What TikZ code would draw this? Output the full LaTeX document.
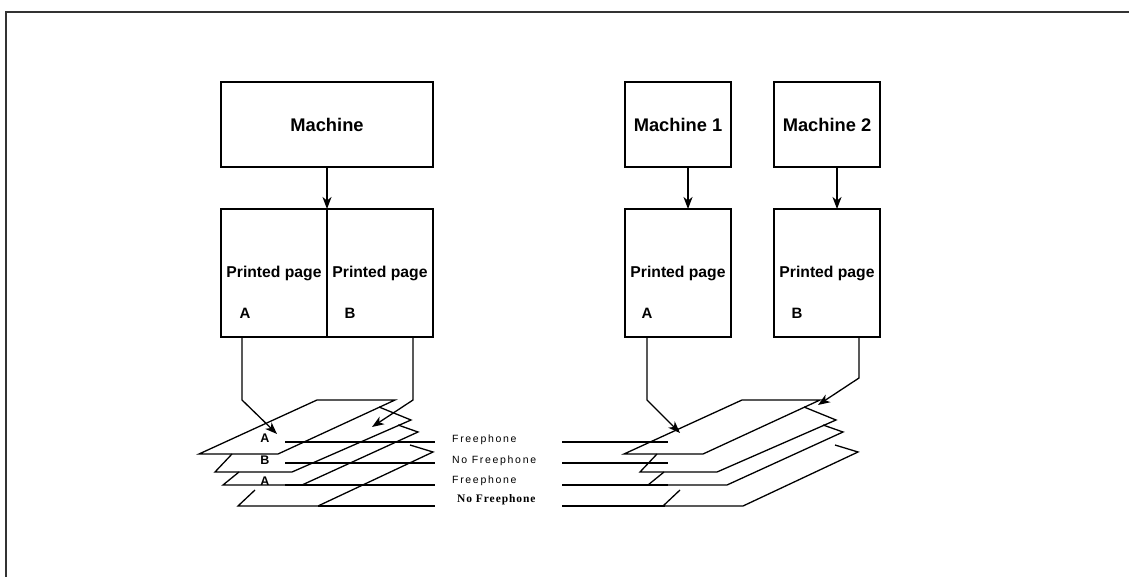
\documentclass[tikz,border=0pt]{standalone}
\usepackage{fontspec}
\setmainfont{Liberation Sans}
\newfontfamily\serifb{Liberation Serif}
\usetikzlibrary{arrows.meta}
\begin{document}
\begin{tikzpicture}[x=1pt,y=-1pt,
  box/.style={draw,line width=1.3pt,inner sep=0pt,outer sep=0pt},
  mbox/.style={box,minimum height=85pt,font=\bfseries\fontsize{18.3}{21}\selectfont},
  pbox/.style={box,minimum width=106pt,minimum height=128pt,font=\bfseries\fontsize{15.7}{18}\selectfont},
  arr/.style={line width=1.3pt,-{Stealth[length=12pt,width=9pt,inset=3.5pt]}},
  ln/.style={line width=1.3pt,line join=miter},
  lbl/.style={font=\bfseries\fontsize{15}{18}\selectfont,inner sep=0pt},
  slbl/.style={font=\bfseries\fontsize{12.5}{14}\selectfont,inner sep=0pt},
  fp/.style={font=\fontsize{10.5}{12}\selectfont\addfontfeature{LetterSpace=16},inner sep=0pt,anchor=base west},
  fpb/.style={font=\serifb\bfseries\fontsize{11.5}{13}\selectfont\addfontfeature{LetterSpace=8},inner sep=0pt,anchor=base west}
]
\useasboundingbox (0,0) rectangle (1129,577);
\draw[line width=1.5pt,color=black!80] (6,577) -- (6,12) -- (1129,12);

% left group
\node[mbox,minimum width=212pt] (m) at (327,124.5) {Machine};
\node[pbox] (pa) at (274,273) {Printed page};
\node[pbox] (pb) at (380,273) {Printed page};
\node[lbl] (la) at (245,313) {A};
\node[lbl] (lb) at (350,313) {B};
\draw[arr] (m.south) -- (pa.north east);

% right group
\node[mbox,minimum width=106pt] (m1) at (678,124.5) {Machine 1};
\node[mbox,minimum width=106pt] (m2) at (827,124.5) {Machine 2};
\node[pbox] (pa2) at (678,273) {Printed page};
\node[pbox] (pb2) at (827,273) {Printed page};
\node[lbl] (la2) at (647,313) {A};
\node[lbl] (lb2) at (797,313) {B};
\draw[arr] ([xshift=10pt]m1.south) -- ([xshift=10pt]pa2.north);
\draw[arr] ([xshift=10pt]m2.south) -- ([xshift=10pt]pb2.north);

% stacks of sheets
\foreach \dx in {0,425}{
\begin{scope}[xshift=\dx pt]
  \draw[ln] (199,454) -- (317,400) -- (395,400) -- (278,454) -- cycle;
  \draw[ln] (232,454) -- (215,472) -- (292,472) -- (411,420) -- (379,407);
  \draw[ln] (239,472) -- (223,485) -- (302,485) -- (418,432) -- (398,425);
  \draw[ln] (255,490) -- (238,506) -- (318,506) -- (433,452) -- (410,445);
\end{scope}
}

% sheet labels
\node[slbl] (s1) at (265,438) {A};
\node[slbl] (s2) at (265,460) {B};
\node[slbl] (s3) at (265,481) {A};

% leader lines
\draw[ln] (285,442) -- (435,442);
\draw[ln] (285,463) -- (435,463);
\draw[ln] (285,485) -- (435,485);
\draw[ln] (318,506) -- (435,506);
\draw[ln] (562,442) -- (668,442);
\draw[ln] (562,463) -- (668,463);
\draw[ln] (562,485) -- (668,485);
\draw[ln] (562,506) -- (665,506);

% texts
\node[fp] (f1) at (452,442) {Freephone};
\node[fp] (f2) at (452,463) {No Freephone};
\node[fp] (f3) at (452,483) {Freephone};
\node[fpb] (f4) at (457,502) {No Freephone};

% connectors from pages to sheets
\coordinate (ta) at (277,434);
\coordinate (tb) at (372,427);
\coordinate (ta2) at (680,433);
\coordinate (tb2) at (818,405);
\draw[arr] ([xshift=21pt]pa.south west) -- ++(0,63) -- (ta);
\draw[arr] ([xshift=86pt]pb.south west) -- ++(0,63) -- (tb);
\draw[arr] ([xshift=22pt]pa2.south west) -- ++(0,63) -- (ta2);
\draw[arr] ([xshift=85pt]pb2.south west) -- ++(0,41) -- (tb2);
\end{tikzpicture}
\end{document}
